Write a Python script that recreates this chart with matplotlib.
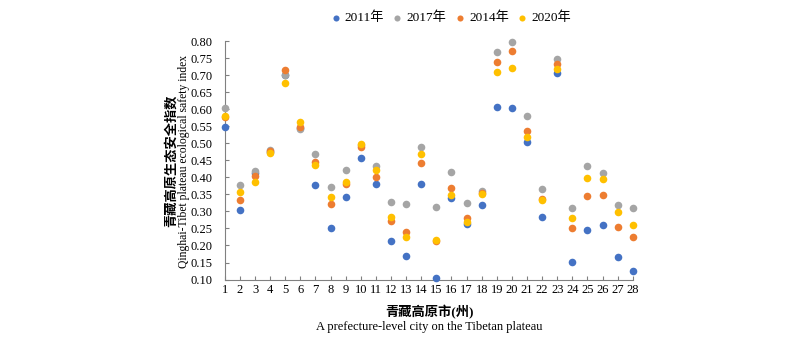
import matplotlib.pyplot as plt
import numpy as np

plt.rcParams['font.family'] = ['Liberation Serif', 'Noto Sans CJK SC']

# 市(州)编号
cities = list(range(1, 29))

# 各年份生态安全指数
v2011 = [0.548, 0.305, 0.412, 0.475, 0.700, 0.545, 0.378, 0.252, 0.343, 0.457,
         0.381, 0.212, 0.170, 0.380, 0.105, 0.339, 0.262, 0.319, 0.607, 0.605,
         0.505, 0.285, 0.707, 0.151, 0.246, 0.261, 0.167, 0.125]
v2017 = [0.604, 0.377, 0.418, 0.481, 0.702, 0.542, 0.470, 0.372, 0.422, 0.494,
         0.433, 0.329, 0.322, 0.490, 0.313, 0.416, 0.324, 0.360, 0.767, 0.797,
         0.579, 0.367, 0.749, 0.310, 0.434, 0.414, 0.318, 0.311]
v2014 = [0.577, 0.335, 0.404, 0.476, 0.714, 0.547, 0.445, 0.321, 0.382, 0.488,
         0.402, 0.273, 0.240, 0.442, 0.214, 0.370, 0.281, 0.355, 0.740, 0.770,
         0.535, 0.337, 0.734, 0.251, 0.346, 0.348, 0.255, 0.224]
v2020 = [0.579, 0.358, 0.385, 0.472, 0.677, 0.563, 0.437, 0.341, 0.387, 0.499,
         0.422, 0.283, 0.224, 0.470, 0.216, 0.349, 0.268, 0.351, 0.708, 0.721,
         0.520, 0.335, 0.718, 0.280, 0.399, 0.396, 0.299, 0.260]

series = [('2011年', v2011, '#4472C4'),
          ('2017年', v2017, '#A5A5A5'),
          ('2014年', v2014, '#ED7D31'),
          ('2020年', v2020, '#FFC000')]

fig = plt.figure(figsize=(8, 3.43), dpi=100)
ax = fig.add_axes([0.281, 0.185, 0.51, 0.695])

for name, vals, col in series:
    ax.scatter(cities, vals, s=30, color=col, label=name, clip_on=False,
               linewidths=0, zorder=3)

yt = np.arange(0.10, 0.801, 0.05)
ax.set_xlim(1, 28)
ax.set_ylim(0.10, 0.80)
ax.set_xticks(cities)
ax.set_yticks(yt)
ax.set_yticklabels(['%.2f' % t for t in yt])
ax.tick_params(axis='both', direction='in', length=3, color='#808080',
               labelsize=9, width=0.8)
ax.tick_params(axis='y', pad=9)
ax.tick_params(axis='x', pad=3)

for s in ['top', 'right']:
    ax.spines[s].set_visible(False)
for s in ['left', 'bottom']:
    ax.spines[s].set_color('#808080')
    ax.spines[s].set_linewidth(0.8)

fig.text(0.214, 0.53, '青藏高原生态安全指数', rotation=90, ha='center',
         va='center', fontsize=9.5, fontweight='bold')
fig.text(0.23, 0.53, 'Qinghai-Tibet plateau ecological safety index',
         rotation=90, ha='center', va='center', fontsize=8.4)
fig.text(0.537, 0.09, '青藏高原市(州)', ha='center', va='center',
         fontsize=9.5, fontweight='bold')
fig.text(0.537, 0.048, 'A prefecture-level city on the Tibetan plateau',
         ha='center', va='center', fontsize=9)

fig.legend(loc='center', bbox_to_anchor=(0.5625, 0.947), ncol=4, frameon=False,
           fontsize=9.5, handlelength=1.0, handletextpad=0.2,
           columnspacing=0.5, markerscale=0.8)

fig.savefig('out.png', dpi=100)
